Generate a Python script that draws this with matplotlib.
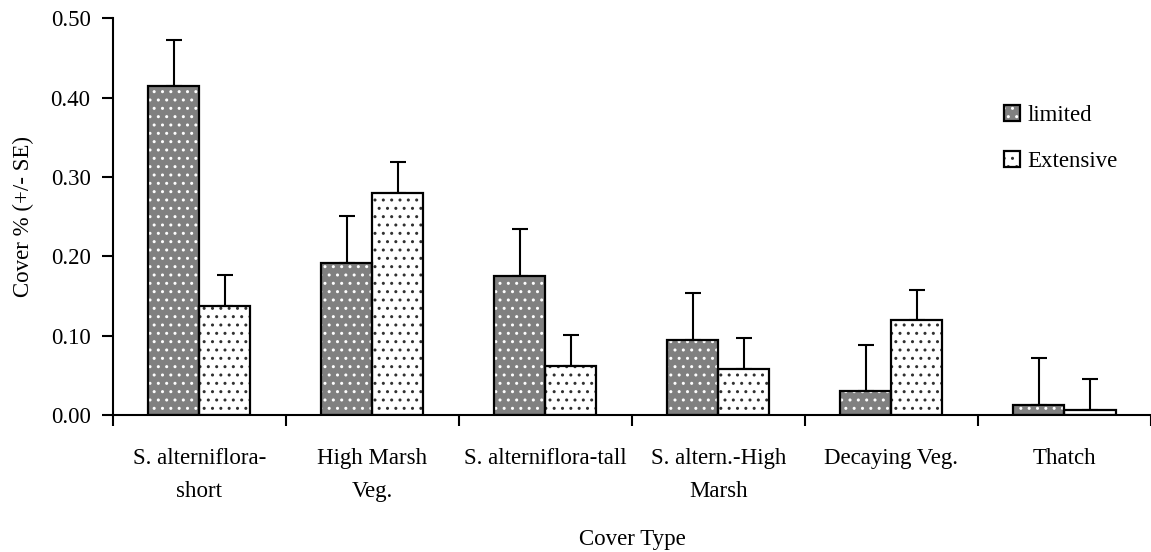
import numpy as np
import matplotlib
matplotlib.use('Agg')
import matplotlib.pyplot as plt
from matplotlib.legend_handler import HandlerTuple

plt.rcParams['font.family'] = ['Liberation Serif', 'DejaVu Serif']
plt.rcParams['hatch.linewidth'] = 1.0

categories = ['S. alterniflora-\nshort', 'High Marsh\nVeg.', 'S. alterniflora-tall',
              'S. altern.-High\nMarsh', 'Decaying Veg.', 'Thatch']
limited = [0.415, 0.192, 0.175, 0.095, 0.030, 0.013]
limited_se = [0.058, 0.059, 0.059, 0.059, 0.058, 0.059]
extensive = [0.138, 0.280, 0.062, 0.058, 0.120, 0.006]
extensive_se = [0.039, 0.039, 0.039, 0.039, 0.038, 0.039]

fig = plt.figure(figsize=(11.51, 5.52), dpi=100)
ax = fig.add_axes([0.098, 0.248, 0.902, 0.719])

x = np.arange(len(categories))
w = 0.295
gray = '#808080'

def layered_bar(pos, vals, face, dotcolor):
    b1 = ax.bar(pos, vals, w, color=face, linewidth=0, zorder=2)
    b2 = ax.bar(pos, vals, w, fill=False, edgecolor=dotcolor, hatch='..', linewidth=0, zorder=3)
    b3 = ax.bar(pos, vals, w, fill=False, edgecolor='black', linewidth=1.6, zorder=4)
    return b1, b2, b3

lim_bars = layered_bar(x - w / 2, limited, gray, 'white')
ext_bars = layered_bar(x + w / 2, extensive, 'white', '#303030')

ax.errorbar(x - w / 2, limited, yerr=[np.zeros(6), limited_se], fmt='none',
            ecolor='black', elinewidth=1.5, capsize=6, capthick=1.5, zorder=1)
ax.errorbar(x + w / 2, extensive, yerr=[np.zeros(6), extensive_se], fmt='none',
            ecolor='black', elinewidth=1.5, capsize=6, capthick=1.5, zorder=1)

ax.set_xlim(-0.5, 5.5)
ax.set_ylim(0, 0.5)
ax.set_yticks(np.arange(0, 0.51, 0.1))
ax.set_yticklabels(['%.2f' % v for v in np.arange(0, 0.51, 0.1)])
ax.set_xticks(x)
ax.set_xticklabels(categories, linespacing=1.75)
ax.set_xticks(np.arange(-0.5, 5.6, 1), minor=True)
ax.tick_params(axis='x', which='major', length=0, pad=24, labelsize=16.5)
ax.tick_params(axis='x', which='minor', length=8, width=1.5, direction='out')
ax.tick_params(axis='y', length=8, width=1.5, direction='out', labelsize=16.5, pad=8)

for s in ['top', 'right']:
    ax.spines[s].set_visible(False)
for s in ['left', 'bottom']:
    ax.spines[s].set_linewidth(1.5)

ax.set_ylabel('Cover % (+/- SE)', fontsize=16.5, labelpad=12)
ax.set_xlabel('Cover Type', fontsize=16.5, labelpad=19)

leg = ax.legend([lim_bars, ext_bars], ['limited', 'Extensive'],
                handler_map={tuple: HandlerTuple(ndivide=1, pad=0)},
                loc='upper left', bbox_to_anchor=(0.854, 0.848), bbox_transform=fig.transFigure,
                frameon=False, fontsize=16.5, handlelength=0.7, handleheight=0.7,
                handletextpad=0.35, labelspacing=1.1)

fig.savefig('out.png', dpi=100)
